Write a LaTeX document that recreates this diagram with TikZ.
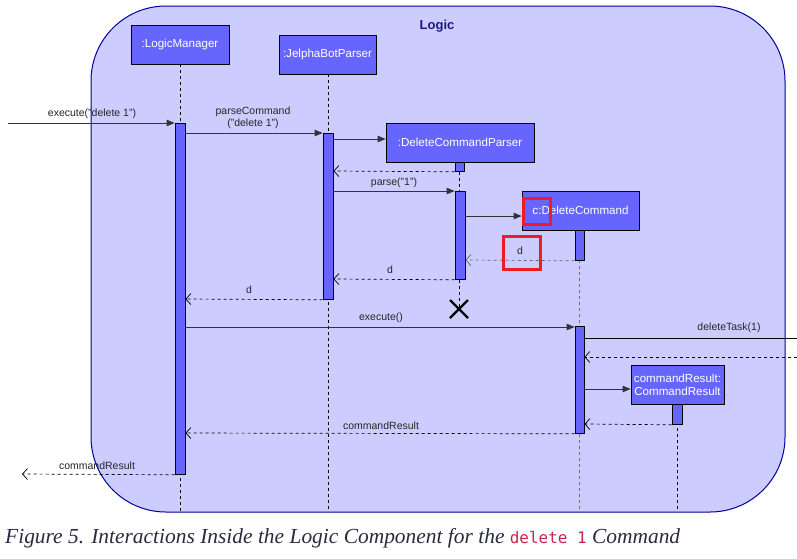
\documentclass[tikz,border=0pt]{standalone}
\usepackage{fontspec}
\setmainfont{Liberation Sans}
\newfontfamily\capfont{Liberation Serif}
\newfontfamily\codefont{DejaVu Sans Mono}
\usetikzlibrary{arrows.meta,calc}
\definecolor{frameFill}{HTML}{CCCCFF}
\definecolor{frameLine}{HTML}{00009A}
\definecolor{boxFill}{HTML}{6666FF}
\definecolor{titleCol}{HTML}{1A1A80}
\definecolor{codeCol}{HTML}{C7254E}
\definecolor{msgCol}{HTML}{333333}
\definecolor{capCol}{HTML}{2B2B40}
\definecolor{markRed}{HTML}{EE1C25}
\begin{document}
\begin{tikzpicture}[x=1pt,y=-1pt,
  objbox/.style={draw=black, line width=0.8pt, fill=boxFill, text=white, inner sep=0pt,
    font=\fontsize{11.6}{13}\selectfont, align=center},
  actbox/.style={draw=black, line width=0.8pt, fill=boxFill, inner sep=0pt, minimum width=10pt},
  life/.style={draw=black, line width=0.7pt, dash pattern=on 3pt off 3pt},
  lifegrey/.style={draw=black!55, line width=0.7pt, dash pattern=on 3pt off 3pt},
  call/.style={draw=msgCol, line width=0.8pt, -{Triangle[length=8pt,width=6.5pt]}},
  ret/.style={draw=black, line width=0.7pt, dash pattern=on 3pt off 3pt, -{Straight Barb[length=5pt,width=11pt]}},
  retgrey/.style={draw=black!60, line width=0.7pt, dash pattern=on 3pt off 3pt, -{Straight Barb[length=5pt,width=11pt]}},
  lbl/.style={inner sep=0pt, text=black!85, font=\fontsize{10.5}{12.5}\selectfont, align=center},
  redmark/.style={draw=markRed, line width=3pt},
]
\useasboundingbox (0,0) rectangle (797,558);
\fill[white] (0,0) rectangle (797,558);

% frame
\node[draw=frameLine, line width=1pt, fill=frameFill, rounded corners=75pt,
      minimum width=694pt, minimum height=506pt, inner sep=0pt] (frame) at (438,259) {};
\node[text=titleCol, font=\bfseries\fontsize{13}{15}\selectfont] (title) at (437,26) {Logic};

% objects
\node[objbox, minimum width=98pt, minimum height=39pt] (lm) at (180,44.5) {:LogicManager};
\node[objbox, minimum width=97pt, minimum height=39pt] (jbp) at (327.5,54.5) {:JelphaBotParser};
\node[objbox, minimum width=148pt, minimum height=39pt] (dcp) at (460,142.5) {:DeleteCommandParser};
\node[objbox, minimum width=117pt, minimum height=39pt] (dc) at (580.5,210.5) {c:DeleteCommand};
\node[objbox, minimum width=93pt, minimum height=39pt] (cr) at (677.5,384.5) {commandResult:\\CommandResult};

% lifeline ends
\coordinate (lmEnd) at (180,512);
\coordinate (jbpEnd) at (328,512);
\coordinate (dcEnd) at (579.5,512);
\coordinate (crEnd) at (677,512);

% lifelines
\draw[life] (lm.south) -- (lmEnd);
\draw[life] (jbp.south -| 328,0) -- (jbpEnd);
\draw[lifegrey] (dc.south -| 579.5,0) -- (dcEnd);
\draw[life] (cr.south -| 677,0) -- (crEnd);

% activations
\node[actbox, minimum height=351pt, anchor=north] (aLM) at (180,123) {};
\node[actbox, minimum height=166pt, anchor=north] (aJBP) at (328,133) {};
\node[actbox, minimum width=9pt, minimum height=9pt, anchor=north] (aDCP1) at (459.5,162) {};
\node[actbox, minimum height=88pt, anchor=north] (aDCP2) at (460,191) {};
\node[actbox, minimum width=9pt, minimum height=30pt, anchor=north] (aDC1) at (579.5,230) {};
\node[actbox, minimum width=9pt, minimum height=107pt, anchor=north] (aDC2) at (579.5,326) {};
\node[actbox, minimum height=20pt, anchor=north] (aCR) at (677,404) {};

% destroy marker
\coordinate (xmark) at (459,309);
\draw[life] (aDCP1.south -| 459,0) -- (aDCP2.north -| 459,0);
\draw[life] (aDCP2.south -| 459,0) -- (xmark);
\draw[line width=2.2pt] ($(xmark)+(-9,-9)$) -- ($(xmark)+(9,9)$)
                        ($(xmark)+(-9,9)$) -- ($(xmark)+(9,-9)$);

% messages
\coordinate (inStart) at (8,123);
\draw[call] (inStart) -- (aLM.north west);
\node[lbl] (l1) at (92,114) {execute("delete 1")};

\draw[call] (aLM.east |- 0,133) -- (aJBP.north west);
\node[lbl] (l2) at (253,118) {parseCommand\\("delete 1")};

\draw[call] (aJBP.east |- 0,139) -- (dcp.west |- 0,139);
\draw[ret] (aDCP1.south west) -- (aJBP.east |- 0,171);

\draw[call] (aJBP.east |- 0,191) -- (aDCP2.north west);
\node[lbl] (l3) at (394,183) {parse("1")};

\draw[call] (aDCP2.east |- 0,216) -- (dc.west |- 0,216);

\draw[retgrey] (aDC1.south west) -- (aDCP2.east |- 0,260);
\node[lbl] (l4) at (520,251) {d};

\draw[ret] (aDCP2.south west) -- (aJBP.east |- 0,279);
\node[lbl] (l5) at (390,270) {d};

\draw[ret] (aJBP.south west) -- (aLM.east |- 0,299);
\node[lbl] (l6) at (249,290) {d};

\draw[call] (aLM.east |- 0,327) -- (aDC2.west |- 0,327);
\node[lbl] (l7) at (381,318) {execute()};

\coordinate (outTask) at (797,338);
\coordinate (inTask) at (797,357);
\draw[draw=black, line width=0.8pt] (aDC2.east |- 0,338) -- (outTask);
\node[lbl] (l8) at (729,328) {deleteTask(1)};
\draw[ret] (inTask) -- (aDC2.east |- 0,357);

\draw[call] (aDC2.east |- 0,389) -- (cr.west |- 0,389);
\draw[ret] (aCR.south west) -- (aDC2.east |- 0,424);

\draw[ret] (aDC2.south west) -- (aLM.east |- 0,433);
\node[lbl] (l9) at (381,426) {commandResult};

\coordinate (outRes) at (22,474);
\draw[ret] (aLM.south west) -- (outRes);
\node[lbl] (l10) at (97,466) {commandResult};

% highlight marks
\draw[redmark] (523,198) rectangle (550,224);
\draw[redmark] (503,236) rectangle (540,269);

% caption
\node[anchor=base west, inner sep=0pt, text=capCol] (cap) at (5,543)
  {\resizebox{675pt}{!}{\capfont\itshape\fontsize{18}{21}\selectfont Figure 5. Interactions Inside the Logic Component for the {\codefont\upshape\fontsize{13.4}{21}\selectfont\color{codeCol}delete 1} Command}};
\end{tikzpicture}
\end{document}
